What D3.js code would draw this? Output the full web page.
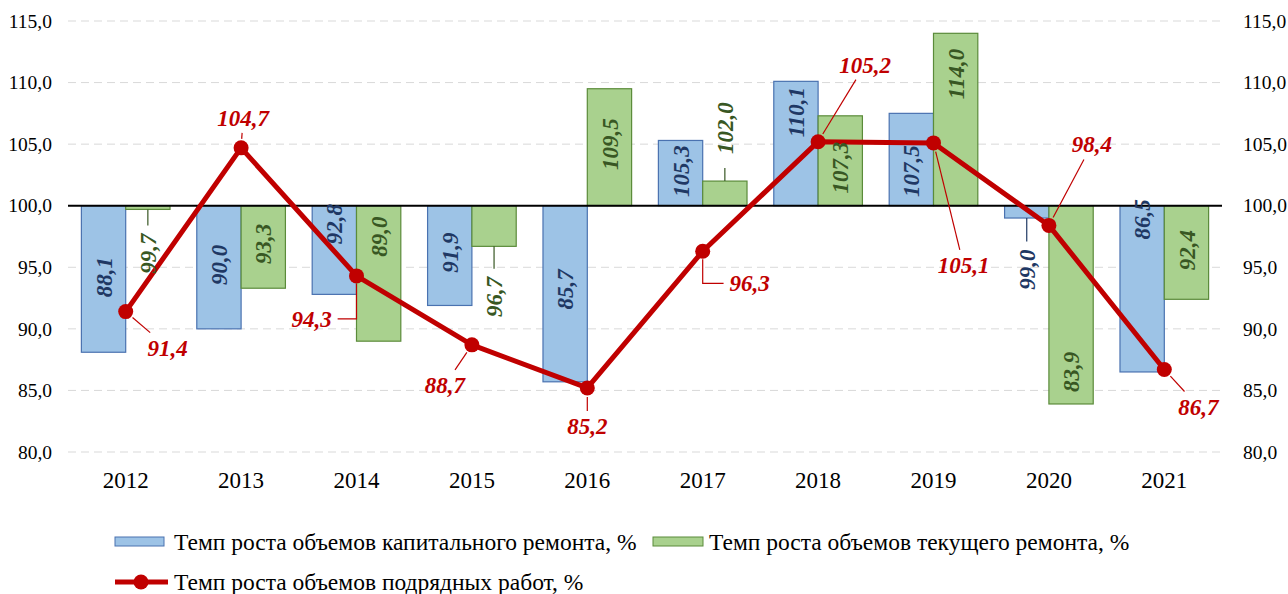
<!DOCTYPE html>
<html>
<head>
<meta charset="utf-8">
<script src="https://cdn.jsdelivr.net/npm/d3@7"></script>
<style>
  body { margin: 0; background: #fff; }
  #chart, #chart text { font-family: "Liberation Serif", Tinos, "Times New Roman", serif !important; }
</style>
</head>
<body>
<svg id="chart" width="1288" height="594"></svg>
<script>
// data
const years = ["2012", "2013", "2014", "2015", "2016", "2017", "2018", "2019", "2020", "2021"];
const capital = [88.1, 90.0, 92.8, 91.9, 85.7, 105.3, 110.1, 107.5, 99.0, 86.5];
const current = [99.7, 93.3, 89.0, 96.7, 109.5, 102.0, 107.3, 114.0, 83.9, 92.4];
const contract = [91.4, 104.7, 94.3, 88.7, 85.2, 96.3, 105.2, 105.1, 98.4, 86.7];
const yTicks = [80, 85, 90, 95, 100, 105, 110, 115];

const names = {
  capital: "Темп роста объемов капитального ремонта, %",
  current: "Темп роста объемов текущего ремонта, %",
  contract: "Темп роста объемов подрядных работ, %"
};

// label placement (value where label centre sits, as dragged in the original)
const capLabelAt = [94.2, 95.2, 98.5, 96.2, 93.2, 102.8, 107.6, 102.8, 94.8, 98.9];
const curLabelAt = [96.1, 96.9, 97.5, 92.6, 105.0, 106.3, 103.1, 110.7, 86.5, 96.4];
// red labels: pixel offset from the point, and leader kind
const lineLabelOff = [[42, 36], [2, -30], [-45, 43], [-27, 40], [0, 38], [47, 32], [47, -77], [30, 122], [43, -81], [34, 37]];
const lineLeader = ["line", "line", "elbow", "line", "line", "elbow", "line", "line", "line", "line"];

const colors = {
  capFill: "#9dc3e6", capStroke: "#4a72b0", capText: "#1f3864",
  curFill: "#a9d18e", curStroke: "#5b8b3a", curText: "#385723",
  red: "#c00000"
};
const FONT = "'Liberation Serif', Tinos, 'Times New Roman', serif";

const svg = d3.select("#chart").style("font-family", FONT);
const mLeft = 68, mRight = 1222, mTop = 21, mBottom = 452;

const x = d3.scaleBand().domain(years).range([mLeft, mRight]).padding(0);
const y = d3.scaleLinear().domain([80, 115]).range([mBottom, mTop]);
const bw = x.bandwidth() * 0.384;
const cx = d => x(d) + x.bandwidth() / 2;

// grid
svg.append("g")
  .selectAll("line").data(yTicks.filter(t => t !== 100)).join("line")
  .attr("x1", mLeft).attr("x2", mRight)
  .attr("y1", d => y(d)).attr("y2", d => y(d))
  .attr("stroke", "#d9d9d9").attr("stroke-dasharray", "8,5");

// axes text
const fmt = v => d3.format(".1f")(v).replace(".", ",");
const yl = d3.axisLeft(y).tickValues(yTicks).tickFormat(fmt).tickSize(0).tickPadding(16);
const yr = d3.axisRight(y).tickValues(yTicks).tickFormat(fmt).tickSize(0).tickPadding(21);
[svg.append("g").attr("transform", `translate(${mLeft},0)`).call(yl),
 svg.append("g").attr("transform", `translate(${mRight},0)`).call(yr)].forEach(g => {
  g.attr("font-family", null).style("font-family", FONT);
  g.select(".domain").remove();
  g.selectAll("text").attr("font-size", 19.5).style("font-family", FONT).attr("fill", "#000");
});

svg.append("g").selectAll("text").data(years).join("text")
  .attr("x", d => cx(d)).attr("y", 488).style("font-family", FONT)
  .attr("text-anchor", "middle").attr("font-size", 23).text(d => d);

// bars
const base = y(100);
function bars(vals, offset, fill, stroke) {
  svg.append("g").selectAll("rect").data(vals).join("rect")
    .attr("x", (d, i) => cx(years[i]) + offset)
    .attr("width", bw)
    .attr("y", d => Math.min(y(d), base))
    .attr("height", d => Math.abs(y(d) - base))
    .attr("fill", fill).attr("stroke", stroke).attr("stroke-width", 1.2);
}
bars(capital, -bw, colors.capFill, colors.capStroke);
bars(current, 0, colors.curFill, colors.curStroke);

// line at 100
svg.append("line").attr("x1", mLeft).attr("x2", mRight)
  .attr("y1", base).attr("y2", base).attr("stroke", "#000").attr("stroke-width", 2);

// line series
const line = d3.line().x((d, i) => cx(years[i])).y(d => y(d));
svg.append("path").datum(contract).attr("d", line)
  .attr("fill", "none").attr("stroke", colors.red).attr("stroke-width", 5).attr("stroke-linejoin", "round");
svg.append("g").selectAll("circle").data(contract).join("circle")
  .attr("cx", (d, i) => cx(years[i])).attr("cy", d => y(d)).attr("r", 7.5)
  .attr("fill", colors.red);

function valText(g) {
  return g.append("text").style("font-family", FONT).attr("font-size", 23)
    .attr("font-weight", "bold").attr("font-style", "italic");
}

// bar value labels (rotated)
function barLabels(vals, at, offset, color) {
  const g = svg.append("g");
  vals.forEach((v, i) => {
    const lx = cx(years[i]) + offset + bw / 2;
    const ly = y(at[i]);
    const t = valText(g)
      .attr("transform", `translate(${lx},${ly}) rotate(-90)`)
      .attr("text-anchor", "middle").attr("dy", "0.35em")
      .attr("fill", color).text(fmt(v));
    const half = t.node().getComputedTextLength() / 2;
    const end = y(v);
    const lo = ly - half, hi = ly + half;
    // label outside the bar: leader from bar end
    if (v < 100 && lo > end + 4) {
      g.append("line").attr("x1", lx).attr("x2", lx).attr("y1", end).attr("y2", lo - 8)
        .attr("stroke", color).attr("stroke-width", 1.2);
    } else if (v > 100 && hi < end - 4) {
      g.append("line").attr("x1", lx).attr("x2", lx).attr("y1", end).attr("y2", hi + 14)
        .attr("stroke", color).attr("stroke-width", 1.2);
    }
  });
}
barLabels(capital, capLabelAt, -bw, colors.capText);
barLabels(current, curLabelAt, 0, colors.curText);

// line value labels
const lg = svg.append("g");
contract.forEach((v, i) => {
  const px = cx(years[i]), py = y(v);
  const [dx, dy] = lineLabelOff[i];
  const lx = px + dx, ly = py + dy;
  const t = valText(lg)
    .attr("x", lx).attr("y", ly).attr("dy", "0.35em").attr("text-anchor", "middle")
    .attr("fill", colors.red).text(fmt(v));
  const w = t.node().getComputedTextLength();
  const bx0 = lx - w / 2 - 6, bx1 = lx + w / 2 + 6, by0 = ly - 9 - 6, by1 = ly + 9 + 6;
  if (lineLeader[i] === "elbow") {
    const ex = dx < 0 ? bx1 : bx0;
    lg.append("polyline")
      .attr("points", `${px},${py + 8} ${px},${ly} ${ex},${ly}`)
      .attr("fill", "none").attr("stroke", colors.red).attr("stroke-width", 1.2);
  } else {
    // from circle edge to the expanded label box
    const len = Math.hypot(dx, dy);
    const ux = dx / len, uy = dy / len;
    let tEnd = 1;
    if (uy > 0) tEnd = Math.min(tEnd, (by0 - py) / dy);
    if (uy < 0) tEnd = Math.min(tEnd, (by1 - py) / dy);
    const sx = px + ux * 9, sy = py + uy * 9;
    const ex = px + dx * tEnd, ey = py + dy * tEnd;
    if (Math.hypot(ex - px, ey - py) > 12) {
      lg.append("line").attr("x1", sx).attr("y1", sy).attr("x2", ex).attr("y2", ey)
        .attr("stroke", colors.red).attr("stroke-width", 1.2);
    }
  }
});

// legend
const leg = svg.append("g").attr("font-size", 23.5).style("font-family", FONT);
leg.append("rect").attr("x", 115).attr("y", 537).attr("width", 49).attr("height", 9)
  .attr("fill", colors.capFill).attr("stroke", colors.capStroke);
leg.append("text").attr("x", 174).attr("y", 550).style("font-family", FONT).text(names.capital);
leg.append("rect").attr("x", 653).attr("y", 537).attr("width", 50).attr("height", 9)
  .attr("fill", colors.curFill).attr("stroke", colors.curStroke);
leg.append("text").attr("x", 709).attr("y", 550).style("font-family", FONT).text(names.current);
leg.append("line").attr("x1", 115).attr("x2", 168).attr("y1", 582).attr("y2", 582)
  .attr("stroke", colors.red).attr("stroke-width", 5);
leg.append("circle").attr("cx", 141).attr("cy", 582).attr("r", 7.5).attr("fill", colors.red);
leg.append("text").attr("x", 174).attr("y", 590).style("font-family", FONT).text(names.contract);
</script>
</body>
</html>
